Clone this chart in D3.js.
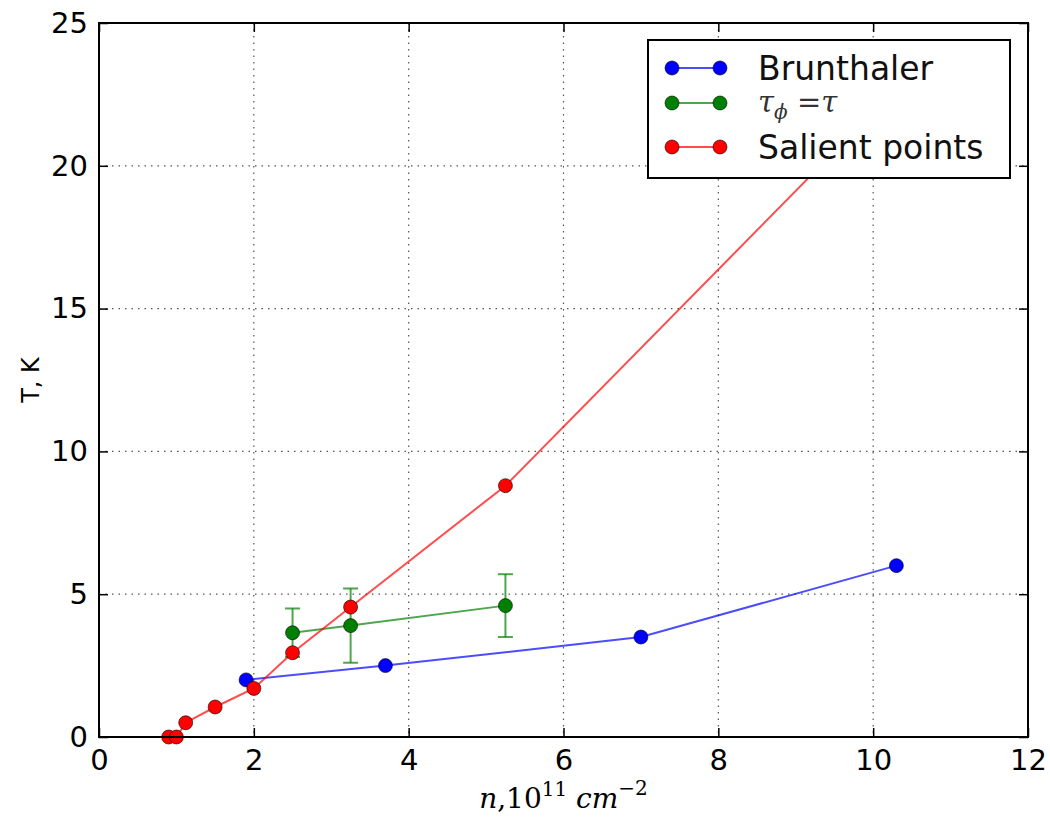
<!DOCTYPE html>
<html>
<head>
<meta charset="utf-8">
<script src="https://cdn.jsdelivr.net/npm/d3@7"></script>
<style>
  body { margin: 0; background: #fff; }
  svg { display: block; }
  .tick text { font-family: "DejaVu Sans", sans-serif; }
</style>
</head>
<body>
<svg id="chart" width="1050" height="820"></svg>
<script>
// series
const brunthalerX = [1.9, 3.7, 7.0, 10.3]
const brunthalerY = [2.0, 2.5, 3.5, 6.0]

const tauX = [2.5, 3.25, 5.25]
const tauY = [3.65, 3.9, 4.6]
const tauErr = [0.85, 1.3, 1.1]

const salientX = [0.9, 1.0, 1.12, 1.5, 2.0, 2.5, 3.25, 5.25, 10.3]
const salientY = [0.0, 0.0, 0.5, 1.05, 1.7, 2.95, 4.55, 8.8, 22.7]

const xTicks = [0, 2, 4, 6, 8, 10, 12]
const yTicks = [0, 5, 10, 15, 20, 25]

const series = [
  { name: 'Brunthaler', color: '#0000ff', xs: brunthalerX, ys: brunthalerY },
  { name: 'tau', color: '#008000', xs: tauX, ys: tauY, err: tauErr },
  { name: 'Salient points', color: '#ff0000', xs: salientX, ys: salientY }
]

const margin = { left: 99, top: 23, right: 22, bottom: 83 }
const width = 1050 - margin.left - margin.right
const height = 820 - margin.top - margin.bottom

const svg = d3.select('#chart')
const g = svg.append('g').attr('transform', `translate(${margin.left},${margin.top})`)

const x = d3.scaleLinear().domain([0, 12]).range([0, width])
const y = d3.scaleLinear().domain([0, 25]).range([height, 0])

// grid
g.append('g').selectAll('line').data(xTicks.slice(1, -1)).join('line')
  .attr('x1', d => x(d)).attr('x2', d => x(d)).attr('y1', 0).attr('y2', height)
  .attr('stroke', '#555').attr('stroke-width', 1.2).attr('stroke-dasharray', '1.5,5')
g.append('g').selectAll('line').data(yTicks.slice(1, -1)).join('line')
  .attr('y1', d => y(d)).attr('y2', d => y(d)).attr('x1', 0).attr('x2', width)
  .attr('stroke', '#555').attr('stroke-width', 1.2).attr('stroke-dasharray', '1.5,5')

// clip for data
svg.append('clipPath').attr('id', 'plotclip').append('rect')
  .attr('x', -10).attr('y', -10).attr('width', width + 20).attr('height', height + 20)
const plot = g.append('g').attr('clip-path', 'url(#plotclip)')

const line = d3.line().x(d => x(d[0])).y(d => y(d[1]))

series.forEach(s => {
  const pts = s.xs.map((v, i) => [v, s.ys[i]])
  plot.append('path').datum(pts)
    .attr('d', line).attr('fill', 'none')
    .attr('stroke', s.color).attr('stroke-opacity', 0.7).attr('stroke-width', 2)
  if (s.err) {
    const eb = plot.append('g').attr('stroke', s.color).attr('stroke-opacity', 0.7).attr('stroke-width', 2)
    pts.forEach((p, i) => {
      const lo = y(p[1] - s.err[i])
      const hi = y(p[1] + s.err[i])
      eb.append('line').attr('x1', x(p[0])).attr('x2', x(p[0])).attr('y1', lo).attr('y2', hi)
      eb.append('line').attr('x1', x(p[0]) - 7.5).attr('x2', x(p[0]) + 7.5).attr('y1', lo).attr('y2', lo)
      eb.append('line').attr('x1', x(p[0]) - 7.5).attr('x2', x(p[0]) + 7.5).attr('y1', hi).attr('y2', hi)
    })
  }
  plot.append('g').selectAll('circle').data(pts).join('circle')
    .attr('cx', d => x(d[0])).attr('cy', d => y(d[1])).attr('r', 7)
    .attr('fill', s.color).attr('stroke', '#000').attr('stroke-width', 0.6)
})

// axes with inward ticks on all four sides
const tickFont = '29px'
const axBottom = g.append('g').attr('transform', `translate(0,${height})`)
  .call(d3.axisBottom(x).tickValues(xTicks).tickFormat(d3.format('d')).tickSizeInner(-9).tickSizeOuter(0).tickPadding(20))
const axLeft = g.append('g')
  .call(d3.axisLeft(y).tickValues(yTicks).tickFormat(d3.format('d')).tickSizeInner(-9).tickSizeOuter(0).tickPadding(20))
const axTop = g.append('g')
  .call(d3.axisTop(x).tickValues(xTicks).tickFormat('').tickSizeInner(-9).tickSizeOuter(0))
const axRight = g.append('g').attr('transform', `translate(${width},0)`)
  .call(d3.axisRight(y).tickValues(yTicks).tickFormat('').tickSizeInner(-9).tickSizeOuter(0))

;[axBottom, axLeft, axTop, axRight].forEach(a => {
  a.select('.domain').remove()
  a.selectAll('.tick line').attr('stroke', '#000').attr('stroke-width', 1.5)
  a.selectAll('.tick text').attr('fill', '#000').style('font-size', tickFont)
})
axBottom.selectAll('.tick text').attr('dy', '0.72em').attr('y', 12)
axLeft.selectAll('.tick text').attr('x', -11)

g.append('rect').attr('width', width).attr('height', height)
  .attr('fill', 'none').attr('stroke', '#000').attr('stroke-width', 2)

// axis labels
svg.append('text')
  .attr('transform', `translate(39,${margin.top + height / 2}) rotate(-90)`)
  .attr('text-anchor', 'middle')
  .style('font-family', 'DejaVu Sans, sans-serif').style('font-size', '24px')
  .text('T, K')

const xl = svg.append('text')
  .attr('x', margin.left + width / 2).attr('y', 808)
  .attr('text-anchor', 'middle')
  .style('font-family', '"DejaVu Serif", serif').style('font-size', '28px')
xl.append('tspan').style('font-style', 'italic').text('n')
xl.append('tspan').text(',10')
xl.append('tspan').attr('dy', -12).style('font-size', '20px').text('11')
xl.append('tspan').attr('dy', 12).style('font-style', 'italic').text(' cm')
xl.append('tspan').attr('dy', -13).style('font-size', '20px').text('\u22122')

// legend
const lg = svg.append('g').attr('transform', 'translate(648,40)')
lg.append('rect').attr('width', 362).attr('height', 138)
  .attr('fill', '#fff').attr('stroke', '#000').attr('stroke-width', 2)
const rowY = [28, 63, 107]
series.forEach((s, i) => {
  const row = lg.append('g').attr('transform', `translate(0,${rowY[i]})`)
  row.append('line').attr('x1', 24).attr('x2', 72)
    .attr('stroke', s.color).attr('stroke-opacity', 0.7).attr('stroke-width', 2)
  row.selectAll('circle').data([24, 72]).join('circle')
    .attr('cx', d => d).attr('r', 7)
    .attr('fill', s.color).attr('stroke', '#000').attr('stroke-width', 0.6)
  const t = row.append('text').attr('x', 110).attr('y', 12)
    .style('font-family', 'DejaVu Sans, sans-serif').style('font-size', '33px').attr('fill', '#111')
  if (s.name === 'tau') {
    t.attr('y', 9).style('font-family', '"DejaVu Serif", serif').style('font-style', 'italic').style('font-size', '29px')
      .attr('fill', '#333')
    t.append('tspan').text('\u03c4')
    t.append('tspan').attr('dy', 7).style('font-size', '20px').text('\u03d5')
    t.append('tspan').attr('dy', -7).style('font-style', 'normal').text(' =')
    t.append('tspan').text('\u03c4')
  } else {
    t.text(s.name)
  }
})
</script>
</body>
</html>
